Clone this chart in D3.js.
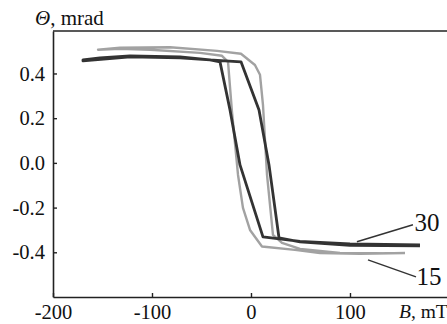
<!DOCTYPE html>
<html>
<head>
<meta charset="utf-8">
<script src="https://cdn.jsdelivr.net/npm/d3@7"></script>
<style>
  body { margin: 0; background: #fff; }
  svg text { font-family: "Liberation Serif", "Times New Roman", "DejaVu Serif", serif !important; fill: #111; }
</style>
</head>
<body>
<svg></svg>
<script>
const width = 447;
const height = 324;

// curve "15" (gray loop), field B in mT, rotation in mrad
const b15 = [155.6, 110.1, 69.7, 44.4, 11.1, -1.0, -8.1, -13.1, -19.2, -23.2, -29.3, -51.5, -102, -132.3, -154.5,
             -132.3, -81.8, -34.3, -10.1, 4.0, 9.1, 12.1, 16.2, 22.2, 31.3, 49.5, 89.9, 155.6];
const theta15 = [-0.403, -0.407, -0.403, -0.389, -0.374, -0.300, -0.201, -0.054, 0.228, 0.452, 0.479, 0.492, 0.506, 0.510, 0.506,
                 0.515, 0.517, 0.501, 0.488, 0.438, 0.394, 0.260, -0.054, -0.322, -0.358, -0.385, -0.403, -0.405];

// curve "30" (dark loop)
const b30 = [170.7, 100, 49.5, 12.1, -11.1, -21.2, -31.3, -41.4, -71.7, -122.2, -152.5, -169.7,
             -169.7, -122, -71.7, -26.3, -10.1, 8.1, 18.2, 28.3, 49.5, 100, 170.7];
const theta30 = [-0.367, -0.362, -0.351, -0.331, -0.009, 0.237, 0.452, 0.461, 0.474, 0.479, 0.470, 0.461,
                 0.456, 0.474, 0.470, 0.456, 0.452, 0.237, -0.009, -0.336, -0.353, -0.369, -0.371];

const xTicks = [-200, -100, 0, 100];
const yTicks = [-0.4, -0.2, 0.0, 0.2, 0.4];

const svg = d3.select("svg")
    .attr("width", width)
    .attr("height", height)

const x = d3.scaleLinear().domain([-200, 198]).range([53, 447])
const y = d3.scaleLinear().domain([-0.6, 0.59]).range([297, 31])

const line = d3.line()
    .x(d => x(d[0]))
    .y(d => y(d[1]))

const pts15 = b15.map((b, i) => [b, theta15[i]])
const pts30 = b30.map((b, i) => [b, theta30[i]])

svg.append("path")
    .attr("d", line(pts15))
    .attr("fill", "none")
    .attr("stroke", "#a2a2a2")
    .attr("stroke-width", 2.4)
    .attr("stroke-linejoin", "round")

svg.append("path")
    .attr("d", line(pts30))
    .attr("fill", "none")
    .attr("stroke", "#333")
    .attr("stroke-width", 2.8)
    .attr("stroke-linejoin", "round")

// axes, ticks pointing inward
const xAxis = d3.axisBottom(x).tickValues(xTicks).tickSizeInner(-4).tickSizeOuter(0)
    .tickFormat(d => String(d)).tickPadding(6)
const yAxis = d3.axisLeft(y).tickValues(yTicks).tickSizeInner(-4).tickSizeOuter(0)
    .tickFormat(d => d3.format(".1f")(d).replace("−", "-")).tickPadding(8)

const gx = svg.append("g")
    .attr("transform", "translate(0," + 297 + ")")
    .call(xAxis)
const gy = svg.append("g")
    .attr("transform", "translate(" + 53 + ",0)")
    .call(yAxis)

;[gx, gy].forEach(g => {
    g.attr("font-family", null)
    g.select(".domain").attr("stroke", "#222").attr("stroke-width", 1.6)
    g.selectAll(".tick line").attr("stroke", "#222").attr("stroke-width", 1.4)
    g.selectAll(".tick text")
        .attr("font-size", 20.5)
        .attr("fill", "#111")
})
gx.selectAll(".tick text").attr("y", 0).attr("dy", 0).attr("transform", "translate(0,22)")

// top frame line
svg.append("line")
    .attr("x1", 53).attr("x2", 447)
    .attr("y1", 31).attr("y2", 31)
    .attr("stroke", "#222").attr("stroke-width", 1.6)

// axis titles
const yTitle = svg.append("text")
    .attr("x", 35).attr("y", 25)
    .attr("font-size", 21)
yTitle.append("tspan").attr("font-style", "italic").text("Θ")
yTitle.append("tspan").text(", mrad")

const xTitle = svg.append("text")
    .attr("x", 399).attr("y", 318)
    .attr("font-size", 19.5)
xTitle.append("tspan").attr("font-style", "italic").text("B")
xTitle.append("tspan").text(", mT")

// curve labels with leader lines
const labels = [
    { text: "30", from: [107, -0.353], to: [163.6, -0.277], at: [165.2, -0.306] },
    { text: "15", from: [118.2, -0.434], to: [166.7, -0.510], at: [167.2, -0.548] }
]
labels.forEach(l => {
    svg.append("line")
        .attr("x1", x(l.from[0])).attr("y1", y(l.from[1]))
        .attr("x2", x(l.to[0])).attr("y2", y(l.to[1]))
        .attr("stroke", "#333").attr("stroke-width", 1.5)
    svg.append("text")
        .attr("x", x(l.at[0])).attr("y", y(l.at[1]))
        .attr("font-size", 25)
        .text(l.text)
})
</script>
</body>
</html>
